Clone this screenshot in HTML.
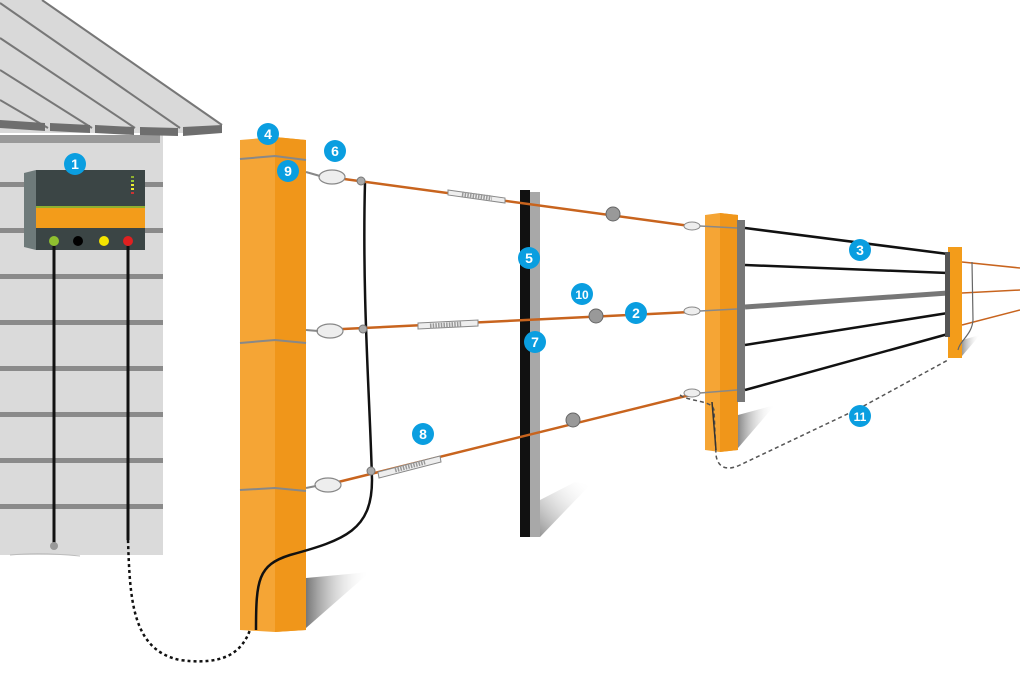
<!DOCTYPE html>
<html><head><meta charset="utf-8"><style>
html,body{margin:0;padding:0;background:#fff;}
svg{display:block;}
text{font-family:"Liberation Sans",sans-serif;font-weight:bold;fill:#fff;text-anchor:middle;}
</style></head><body>
<svg width="1020" height="680" viewBox="0 0 1020 680" xmlns="http://www.w3.org/2000/svg">
<defs>
<linearGradient id="sh" x1="0" y1="0" x2="1" y2="0"><stop offset="0" stop-color="#555"/><stop offset="1" stop-color="#fff" stop-opacity="0"/></linearGradient>
<linearGradient id="sh2" x1="0" y1="1" x2="1" y2="0"><stop offset="0" stop-color="#666"/><stop offset="1" stop-color="#fff" stop-opacity="0"/></linearGradient>
</defs>
<!-- House wall -->
<rect x="0" y="135" width="163" height="420" fill="#dadada"/>
<g fill="#8a8a8a">
<rect x="0" y="182" width="163" height="5"/><rect x="0" y="228" width="163" height="5"/>
<rect x="0" y="274" width="163" height="5"/><rect x="0" y="320" width="163" height="5"/>
<rect x="0" y="366" width="163" height="5"/><rect x="0" y="412" width="163" height="5"/>
<rect x="0" y="458" width="163" height="5"/><rect x="0" y="504" width="163" height="5"/>
</g>
<rect x="0" y="135" width="160" height="8" fill="#999"/>
<!-- roof -->
<polygon points="0,0 42,0 222,125 222,133 0,133" fill="#d9d9d9"/>
<g stroke="#777" stroke-width="2" fill="none">
<line x1="42" y1="0" x2="222" y2="125"/>
<line x1="0" y1="3" x2="180" y2="128"/>
<line x1="0" y1="38" x2="135" y2="128"/>
<line x1="0" y1="70" x2="92" y2="128"/>
<line x1="0" y1="100" x2="48" y2="128"/>
</g>
<g fill="#6e6e6e">
<polygon points="0,120 45,123 45,131 0,128"/>
<polygon points="50,123 90,125 90,133 50,131"/>
<polygon points="95,125 134,127 134,135 95,133"/>
<polygon points="140,127 178,128 178,136 140,135"/>
<polygon points="183,127 222,125 222,133 183,136"/>
</g>
<!-- energizer -->
<polygon points="24,173 36,170 36,250 24,247" fill="#6e7a7a"/>
<rect x="36" y="170" width="109" height="80" fill="#3b4545"/>
<rect x="36" y="207" width="109" height="21" fill="#f39c1a"/>
<rect x="36" y="206" width="109" height="2" fill="#8fb030"/>
<g><rect x="131" y="176" width="3" height="2" fill="#8fb030"/><rect x="131" y="180" width="3" height="2" fill="#9c3"/><rect x="131" y="184" width="3" height="2" fill="#ee3"/><rect x="131" y="188" width="3" height="2" fill="#ee3"/><rect x="131" y="192" width="3" height="2" fill="#c33"/></g>
<circle cx="54" cy="241" r="5" fill="#8fbf2f"/><circle cx="78" cy="241" r="5" fill="#000"/>
<circle cx="104" cy="241" r="5" fill="#f4e400"/><circle cx="128" cy="241" r="5" fill="#e02020"/>
<line x1="54" y1="246" x2="54" y2="545" stroke="#111" stroke-width="3"/>
<line x1="128" y1="246" x2="128" y2="540" stroke="#111" stroke-width="3"/>
<circle cx="54" cy="546" r="4" fill="#999"/>
<path d="M10,555 Q40,552 80,556" stroke="#bbb" fill="none"/>
<path d="M128,540 C130,600 132,650 180,660 C240,668 252,640 256,600" stroke="#111" stroke-width="2.5" stroke-dasharray="3,3" fill="none"/>
<!-- post 1 shadow -->
<polygon points="306,578 370,572 306,628" fill="url(#sh)" opacity="0.8"/>
<!-- post 1 -->
<polygon points="240,140 275,137 306,140 306,630 275,632 240,630" fill="#f5a535"/>
<polygon points="275,137 306,140 306,630 275,632" fill="#f0961a"/>
<g stroke="#888" stroke-width="2" fill="none">
<path d="M240,159 L275,156 L306,160"/><path d="M240,343 L275,340 L306,343"/><path d="M240,490 L275,488 L306,491"/>
</g>
<!-- lead wire -->
<path d="M256,630 C256,580 258,565 290,555 C345,540 372,530 372,480 C370,400 362,300 365,182" stroke="#111" stroke-width="2.5" fill="none"/>
<!-- steel post shadow -->
<polygon points="540,500 575,482 590,485 540,537" fill="url(#sh2)" opacity="0.7"/>
<rect x="520" y="190" width="10" height="347" fill="#111"/>
<rect x="530" y="192" width="10" height="345" fill="#a8a8a8"/>
<!-- wires post1 -> post2 -->
<g stroke="#c8641e" stroke-width="2.5" fill="none">
<line x1="322" y1="176" x2="690" y2="226"/>
<line x1="322" y1="330" x2="690" y2="312"/>
<line x1="322" y1="486" x2="690" y2="395"/>
</g>
<!-- tensioners -->
<g stroke="#888" stroke-width="1" fill="#eee">
<polygon points="448,190 505,198 505,203 448,195"/>
<polygon points="418,323 478,320 478,326 418,329"/>
<polygon points="378,472 440,456 441,462 379,478"/>
</g>
<g stroke="#999" stroke-width="5" stroke-dasharray="1.5,1.2">
<line x1="462" y1="194" x2="492" y2="198"/><line x1="430" y1="326" x2="462" y2="324"/><line x1="395" y1="470" x2="425" y2="462"/>
</g>
<!-- insulators post1 -->
<g fill="#eee" stroke="#888" stroke-width="1.2">
<ellipse cx="332" cy="177" rx="13" ry="7"/><ellipse cx="330" cy="331" rx="13" ry="7"/><ellipse cx="328" cy="485" rx="13" ry="7"/>
</g>
<g stroke="#888" stroke-width="2"><line x1="306" y1="172" x2="320" y2="176"/><line x1="306" y1="330" x2="318" y2="331"/><line x1="306" y1="488" x2="316" y2="486"/></g>
<g fill="#aaa" stroke="#777"><circle cx="361" cy="181" r="4"/><circle cx="363" cy="329" r="4"/><circle cx="371" cy="471" r="4"/></g>
<!-- discs -->
<g fill="#999" stroke="#666"><circle cx="613" cy="214" r="7"/><circle cx="596" cy="316" r="7"/><circle cx="573" cy="420" r="7"/></g>
<!-- post2 -->
<polygon points="738,415 775,405 738,448" fill="url(#sh)" opacity="0.7"/>
<polygon points="705,215 720,213 738,215 738,450 720,452 705,450" fill="#f5a535"/>
<polygon points="720,213 738,215 738,450 720,452" fill="#f0961a"/>
<rect x="737" y="220" width="8" height="182" fill="#777"/>
<g fill="#eee" stroke="#888"><ellipse cx="692" cy="226" rx="8" ry="4"/><ellipse cx="692" cy="311" rx="8" ry="4"/><ellipse cx="692" cy="393" rx="8" ry="4"/></g>
<g stroke="#888" stroke-width="1.5" fill="none"><path d="M700,226 L737,228"/><path d="M700,311 L737,309"/><path d="M700,393 L737,390"/></g>
<path d="M680,395 C690,402 712,400 714,410 L716,455 C718,470 730,470 740,465 L860,408 L948,360" stroke="#555" stroke-width="1.5" stroke-dasharray="4,3" fill="none"/>
<path d="M712,402 L716,450" stroke="#333" stroke-width="1.5"/>
<!-- black wires -->
<g stroke="#111" stroke-width="2.5">
<line x1="745" y1="228" x2="948" y2="254"/><line x1="745" y1="265" x2="948" y2="273"/>
<line x1="745" y1="345" x2="948" y2="313"/><line x1="745" y1="390" x2="948" y2="334"/>
</g>
<line x1="745" y1="307" x2="948" y2="293" stroke="#777" stroke-width="5"/>
<!-- post3 -->
<polygon points="962,340 980,335 962,356" fill="url(#sh)" opacity="0.6"/>
<rect x="948" y="247" width="14" height="111" fill="#f39c1a"/>
<rect x="945" y="252" width="5" height="85" fill="#555"/>
<g stroke="#c8641e" stroke-width="1.5"><line x1="962" y1="262" x2="1020" y2="268"/><line x1="962" y1="293" x2="1020" y2="290"/><line x1="962" y1="325" x2="1020" y2="310"/></g>
<path d="M972,262 L973,320 C972,335 960,340 958,350" stroke="#666" stroke-width="1.2" fill="none"/>
<!-- labels -->
<g fill="#0a9ee0">
<circle cx="75" cy="164" r="11"/><circle cx="268" cy="134" r="11"/><circle cx="335" cy="151" r="11"/>
<circle cx="288" cy="171" r="11"/><circle cx="529" cy="258" r="11"/><circle cx="535" cy="342" r="11"/>
<circle cx="582" cy="294" r="11"/><circle cx="636" cy="313" r="11"/><circle cx="423" cy="434" r="11"/>
<circle cx="860" cy="250" r="11"/><circle cx="860" cy="416" r="11"/>
</g>
<g font-size="14">
<text x="75" y="169">1</text><text x="268" y="139">4</text><text x="335" y="156">6</text>
<text x="288" y="176">9</text><text x="529" y="263">5</text><text x="535" y="347">7</text>
<text x="582" y="299" font-size="12">10</text><text x="636" y="318">2</text><text x="423" y="439">8</text>
<text x="860" y="255">3</text><text x="860" y="421" font-size="12">11</text>
</g>
</svg>
</body></html>
